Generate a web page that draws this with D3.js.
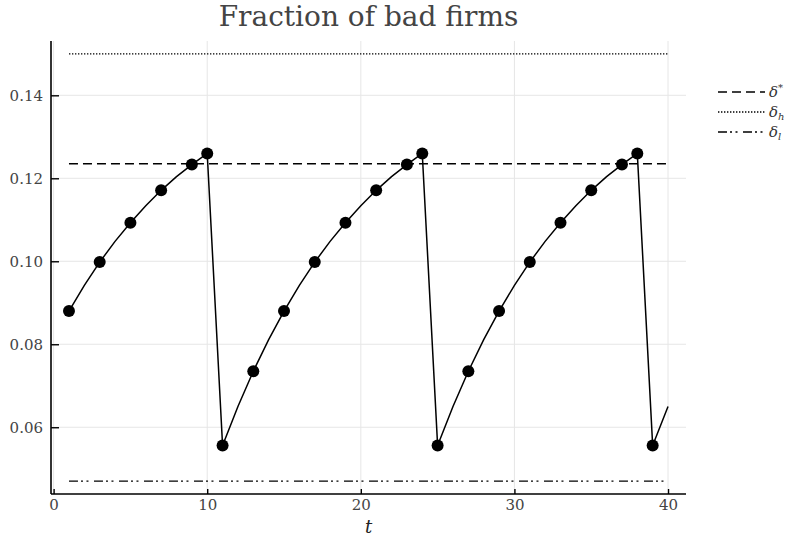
<!DOCTYPE html>
<html>
<head>
<meta charset="utf-8">
<script src="https://cdn.jsdelivr.net/npm/d3@7"></script>
<style>
  body { margin: 0; background: #fff; }
  text { font-family: "DejaVu Serif", serif; }
</style>
</head>
<body>
<div id="chart"></div>
<script>
// DATA //
const tValues = [1, 2, 3, 4, 5, 6, 7, 8, 9, 10,
                 11, 12, 13, 14, 15, 16, 17, 18, 19, 20,
                 21, 22, 23, 24, 25, 26, 27, 28, 29, 30,
                 31, 32, 33, 34, 35, 36, 37, 38, 39, 40];
const fraction = [0.0880, 0.0942, 0.0998, 0.1048, 0.1093, 0.1134, 0.1171, 0.1204, 0.1233, 0.1260,
                  0.0556, 0.0650, 0.0735, 0.0811, 0.0880, 0.0942, 0.0998, 0.1048, 0.1093, 0.1134,
                  0.1171, 0.1204, 0.1233, 0.1260, 0.0556, 0.0650, 0.0735, 0.0811, 0.0880, 0.0942,
                  0.0998, 0.1048, 0.1093, 0.1134, 0.1171, 0.1204, 0.1233, 0.1260, 0.0556, 0.0650];
// periods that carry a marker
const markerT = [1, 3, 5, 7, 9, 10, 11, 13, 15, 17, 19, 21, 23, 24, 25,
                 27, 29, 31, 33, 35, 37, 38, 39];

const levelNames = ["δ*", "δh", "δl"];
const levelValues = [0.1235, 0.150, 0.047];

const xTicks = [0, 10, 20, 30, 40];
const yTicks = [0.06, 0.08, 0.10, 0.12, 0.14];

// DIMENSIONS //
const W = 789, H = 539;
const plot = {left: 51, right: 686, top: 41, bottom: 494};

const svg = d3.select("#chart").append("svg")
    .attr("width", W)
    .attr("height", H);

// scales (3% padding around data like Plots.jl)
const xMin = 1, xMax = 40;
const xPad = (xMax - xMin) * 0.03;
const x = d3.scaleLinear()
    .domain([xMin - xPad, xMax + xPad])
    .range([plot.left, plot.right]);

const yLo = d3.min(levelValues), yHi = d3.max(levelValues);
const yPad = (yHi - yLo) * 0.03;
const y = d3.scaleLinear()
    .domain([yLo - yPad, yHi + yPad])
    .range([plot.bottom, plot.top]);

// GRID //
const grid = svg.append("g").attr("stroke", "#e6e6e6").attr("stroke-width", 1);
grid.selectAll(".gx").data(xTicks).enter().append("line")
    .attr("x1", d => x(d)).attr("x2", d => x(d))
    .attr("y1", plot.top).attr("y2", plot.bottom);
grid.selectAll(".gy").data(yTicks).enter().append("line")
    .attr("x1", plot.left).attr("x2", plot.right)
    .attr("y1", d => y(d)).attr("y2", d => y(d));

// AXES //
const xAxis = svg.append("g")
    .attr("transform", "translate(0," + plot.bottom + ")")
    .call(d3.axisBottom(x).tickValues(xTicks).tickFormat(d3.format("d"))
        .tickSizeInner(-5).tickSizeOuter(0).tickPadding(5));
const yAxis = svg.append("g")
    .attr("transform", "translate(" + plot.left + ",0)")
    .call(d3.axisLeft(y).tickValues(yTicks).tickFormat(d3.format(".2f"))
        .tickSizeInner(-8).tickSizeOuter(0).tickPadding(8));

[xAxis, yAxis].forEach(a => {
  a.select(".domain").attr("stroke", "#000").attr("stroke-width", 1.6);
  a.selectAll(".tick line").attr("stroke", "#000").attr("stroke-width", 1.4);
  a.selectAll(".tick text")
    .style("font-family", "'DejaVu Serif', serif")
    .style("font-size", "15px")
    .attr("fill", "#444");
});
xAxis.select(".domain").attr("d", `M${plot.left},0H${plot.right}`);
yAxis.select(".domain").attr("d", `M0,${plot.top}V${plot.bottom}`);

// REFERENCE LEVELS //
const dashes = ["9,5", "1.4,1.6", "9,3,2,3.5,2,5.5"];
svg.append("g").selectAll("line.level")
    .data(levelValues)
    .enter().append("line")
    .attr("class", "level")
    .attr("x1", x(xMin)).attr("x2", x(xMax))
    .attr("y1", d => y(d)).attr("y2", d => y(d))
    .attr("stroke", "#000")
    .attr("stroke-width", 1.3)
    .attr("stroke-dasharray", (d, i) => dashes[i]);

// SERIES //
const series = tValues.map((t, i) => ({t: t, v: fraction[i]}));
svg.append("path")
    .datum(series)
    .attr("fill", "none")
    .attr("stroke", "#000")
    .attr("stroke-width", 1.5)
    .attr("d", d3.line().x(d => x(d.t)).y(d => y(d.v)));

svg.append("g").selectAll("circle")
    .data(series.filter(d => markerT.includes(d.t)))
    .enter().append("circle")
    .attr("cx", d => x(d.t))
    .attr("cy", d => y(d.v))
    .attr("r", 6)
    .attr("fill", "#000");

// TITLE + LABELS //
svg.append("text")
    .attr("x", (plot.left + plot.right) / 2)
    .attr("y", 26)
    .attr("text-anchor", "middle")
    .attr("fill", "#444")
    .style("font-size", "28px")
    .text("Fraction of bad firms");

svg.append("text")
    .attr("x", (plot.left + plot.right) / 2)
    .attr("y", 533)
    .attr("text-anchor", "middle")
    .attr("fill", "#222")
    .style("font-size", "18px")
    .style("font-style", "italic")
    .text("t");

// LEGEND //
const legend = svg.append("g");
levelNames.forEach((name, i) => {
  const ly = 92 + i * 20;
  legend.append("line")
    .attr("x1", 718).attr("x2", 765)
    .attr("y1", ly).attr("y2", ly)
    .attr("stroke", "#000")
    .attr("stroke-width", 1.3)
    .attr("stroke-dasharray", dashes[i]);
  const lt = legend.append("text")
    .attr("x", 769).attr("y", ly + 5)
    .attr("fill", "#333")
    .style("font-size", "15px")
    .style("font-style", "italic");
  lt.append("tspan").text("δ");
  if (i === 0) {
    lt.append("tspan").attr("dy", -6).style("font-size", "10px").text("*");
  } else {
    lt.append("tspan").attr("dy", 3).style("font-size", "10px").text(i === 1 ? "h" : "l");
  }
});
</script>
</body>
</html>
